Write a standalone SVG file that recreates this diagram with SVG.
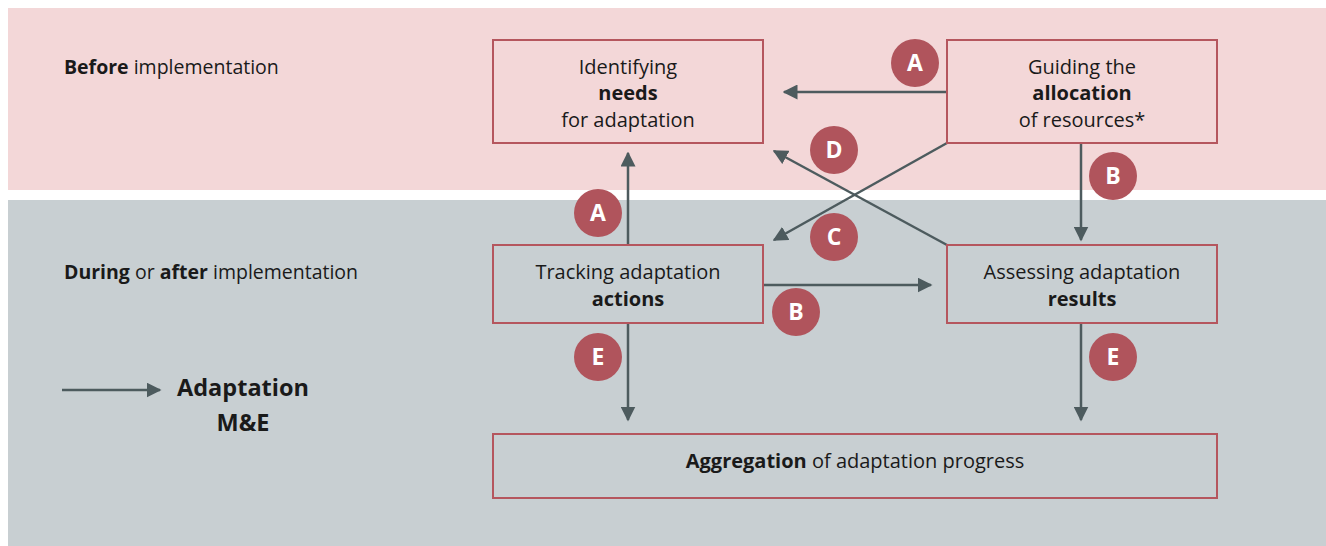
<svg xmlns="http://www.w3.org/2000/svg" width="1326" height="546" viewBox="0 0 1326 546">
<defs>
<style>
.t{font-family:"Open Sans","Liberation Sans",sans-serif;font-size:20px;fill:#1a1a1a}
.b{font-weight:bold}
.side{font-size:19.5px}
.leg{font-size:23.5px}
.box{fill:none;stroke:#b5565e;stroke-width:2}
.con{stroke:#4d5b5e;stroke-width:2.5;fill:none}
.badge circle{fill:#b0545c}
.badge text{font-family:"Open Sans","Liberation Sans",sans-serif;font-size:23px;font-weight:bold;fill:#fff;text-anchor:middle}
</style>
<marker id="ah" viewBox="0 0 10 10" refX="9" refY="5" markerWidth="6" markerHeight="6" markerUnits="strokeWidth" orient="auto">
<path d="M0,0 L10,5 L0,10 z" fill="#4d5b5e"/>
</marker>
</defs>
<rect x="8" y="8" width="1318" height="182" fill="#f3d7d8"/>
<rect x="8" y="200" width="1318" height="346" fill="#c8cfd2"/>
<text class="t side" x="64" y="74"><tspan class="b">Before</tspan> implementation</text>
<text class="t side" x="64" y="279"><tspan class="b">During</tspan> or <tspan class="b">after</tspan> implementation</text>
<g id="connectors">
<line class="con" x1="947" y1="92" x2="784" y2="92" marker-end="url(#ah)"/>
<line class="con" x1="628" y1="245" x2="628" y2="153" marker-end="url(#ah)"/>
<line class="con" x1="1081" y1="143" x2="1081" y2="240" marker-end="url(#ah)"/>
<line class="con" x1="763" y1="285" x2="931" y2="285" marker-end="url(#ah)"/>
<line class="con" x1="947" y1="143" x2="774" y2="240" marker-end="url(#ah)"/>
<line class="con" x1="947" y1="245" x2="774" y2="151" marker-end="url(#ah)"/>
<line class="con" x1="628" y1="323" x2="628" y2="420" marker-end="url(#ah)"/>
<line class="con" x1="1081" y1="323" x2="1081" y2="420" marker-end="url(#ah)"/>
<line class="con" x1="62" y1="390" x2="160" y2="390" marker-end="url(#ah)"/>
</g>
<g id="needs">
<rect class="box" x="493" y="40" width="270" height="103"/>
<text class="t" text-anchor="middle" x="628" y="74">Identifying</text>
<text class="t b" text-anchor="middle" x="628" y="100">needs</text>
<text class="t" text-anchor="middle" x="628" y="127">for adaptation</text>
</g>
<g id="allocation">
<rect class="box" x="947" y="40" width="270" height="103"/>
<text class="t" text-anchor="middle" x="1082" y="74">Guiding the</text>
<text class="t b" text-anchor="middle" x="1082" y="100">allocation</text>
<text class="t" text-anchor="middle" x="1082" y="127">of resources*</text>
</g>
<g id="tracking">
<rect class="box" x="493" y="245" width="270" height="78"/>
<text class="t" text-anchor="middle" x="628" y="279">Tracking adaptation</text>
<text class="t b" text-anchor="middle" x="628" y="306">actions</text>
</g>
<g id="assessing">
<rect class="box" x="947" y="245" width="270" height="78"/>
<text class="t" text-anchor="middle" x="1082" y="279">Assessing adaptation</text>
<text class="t b" text-anchor="middle" x="1082" y="306">results</text>
</g>
<g id="aggregation">
<rect class="box" x="493" y="434" width="724" height="64"/>
<text class="t" text-anchor="middle" x="855" y="468"><tspan class="b">Aggregation</tspan> of adaptation progress</text>
</g>
<g id="legend">
<text class="t b leg" text-anchor="middle" x="243" y="396">Adaptation</text>
<text class="t b leg" text-anchor="middle" x="243" y="431">M&amp;E</text>
</g>
<g id="badges" class="badge">
<g id="badge-a1"><circle cx="915" cy="63" r="24"/><text x="915" y="71">A</text></g>
<g id="badge-d"><circle cx="834" cy="150" r="24"/><text x="834" y="158">D</text></g>
<g id="badge-b1"><circle cx="1113" cy="176" r="24"/><text x="1113" y="184">B</text></g>
<g id="badge-a2"><circle cx="598" cy="213" r="24"/><text x="598" y="221">A</text></g>
<g id="badge-c"><circle cx="834" cy="237" r="24"/><text x="834" y="245">C</text></g>
<g id="badge-b2"><circle cx="796" cy="312" r="24"/><text x="796" y="320">B</text></g>
<g id="badge-e1"><circle cx="598" cy="357" r="24"/><text x="598" y="365">E</text></g>
<g id="badge-e2"><circle cx="1113" cy="357" r="24"/><text x="1113" y="365">E</text></g>
</g>
</svg>
